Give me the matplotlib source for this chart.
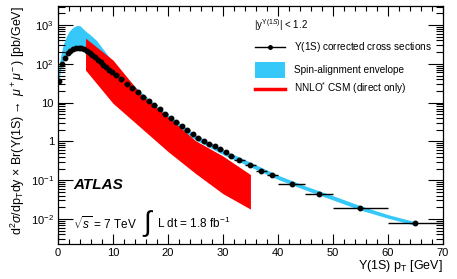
import numpy as np
import matplotlib
matplotlib.use('Agg')
import matplotlib.pyplot as plt
from matplotlib.ticker import FixedLocator, LogLocator, NullFormatter, MultipleLocator
from matplotlib.patches import Rectangle
from matplotlib.lines import Line2D

plt.rcParams['font.family'] = ['Liberation Sans', 'DejaVu Sans']
plt.rcParams['mathtext.fontset'] = 'custom'
plt.rcParams['mathtext.rm'] = 'Liberation Sans'
plt.rcParams['mathtext.it'] = 'Liberation Sans:italic'

# measured cross sections (bin low / high edges and values)
bin_lo = [0.0, 0.5, 1.0, 1.5, 2.0, 2.5, 3.0, 3.5, 4.0, 4.5, 5.0, 5.5, 6.0, 6.5, 7.0, 7.5, 8.0, 8.5, 9.0, 9.5,
          10, 11, 12, 13, 14, 15, 16, 17, 18, 19, 20, 21, 22, 23, 24, 25, 26, 27, 28, 29, 30, 31,
          32, 34, 36, 38, 40, 45, 50, 60]
bin_hi = [0.5, 1.0, 1.5, 2.0, 2.5, 3.0, 3.5, 4.0, 4.5, 5.0, 5.5, 6.0, 6.5, 7.0, 7.5, 8.0, 8.5, 9.0, 9.5, 10,
          11, 12, 13, 14, 15, 16, 17, 18, 19, 20, 21, 22, 23, 24, 25, 26, 27, 28, 29, 30, 31, 32,
          34, 36, 38, 40, 45, 50, 60, 70]
xsec = [37, 99, 145, 185, 215, 240, 255, 258, 250, 235, 215, 192, 170, 147, 127, 110, 96, 82, 71, 62,
        52, 40, 31, 24, 18.5, 14.2, 11.0, 8.6, 6.7, 5.2, 3.9, 3.1, 2.45, 1.95, 1.55, 1.25, 1.02, 0.86,
        0.74, 0.63, 0.52, 0.41,
        0.33, 0.25, 0.178, 0.136, 0.080, 0.044, 0.0192, 0.0078]

# spin-alignment envelope
env_pt = [0, 0.5, 1, 1.5, 2, 2.5, 3, 3.5, 4, 5, 6, 7, 8, 9, 10, 12, 14, 16, 18, 20, 25, 30, 35, 40,
          45, 50, 55, 60, 65]
env_hi = [55, 170, 330, 500, 680, 820, 920, 980, 960, 700, 540, 400, 260, 170, 115, 52, 26, 14.5, 8.2,
          4.9, 1.5, 0.62, 0.29, 0.135, 0.071, 0.04, 0.022, 0.013, 0.0085]
env_lo = [24, 80, 120, 150, 175, 200, 215, 225, 225, 205, 160, 115, 85, 65, 50, 28, 17, 10.3, 6.0,
          3.6, 1.1, 0.46, 0.22, 0.105, 0.056, 0.031, 0.017, 0.0105, 0.0068]

# NNLO* CSM band
csm_pt = [5, 10, 15, 20, 25, 30, 35]
csm_hi = [460, 125, 17, 4.3, 1.05, 0.42, 0.14]
csm_lo = [69, 9.6, 2.3, 0.55, 0.15, 0.045, 0.018]

blue = '#36c8f8'
red = '#ff0000'

fig = plt.figure(figsize=(4.57, 2.79), dpi=100)
ax = fig.add_axes([0.127, 0.1255, 0.842, 0.853])

ax.fill_between(env_pt, env_lo, env_hi, color=blue, lw=0, zorder=1)
ax.fill_between(csm_pt, csm_lo, csm_hi, color=red, lw=0, zorder=2)

lo = np.array(bin_lo)
hi = np.array(bin_hi)
xc = 0.5 * (lo + hi)
ax.errorbar(xc, xsec, xerr=0.5 * (hi - lo), fmt='o', color='black', ms=3.2, elinewidth=1.0,
            capsize=0, zorder=3)

ax.set_yscale('log')
ax.set_xlim(0, 70)
ax.set_ylim(2.27e-3, 3100)

ax.xaxis.set_major_locator(MultipleLocator(10))
ax.xaxis.set_minor_locator(MultipleLocator(2))
ax.yaxis.set_major_locator(FixedLocator([1e-2, 1e-1, 1, 10, 1e2, 1e3]))
ax.yaxis.set_minor_locator(LogLocator(base=10, subs=np.arange(2, 10)))
ax.yaxis.set_minor_formatter(NullFormatter())
ax.set_yticklabels([r'$10^{-2}$', r'$10^{-1}$', '1', '10', r'$10^{2}$', r'$10^{3}$'])

ax.tick_params(which='both', direction='in', top=True, right=True, labelsize=8, width=0.8,
               colors='black')
ax.tick_params(axis='x', which='major', length=7, pad=3)
ax.tick_params(axis='x', which='minor', length=3.5)
ax.tick_params(axis='y', which='major', length=11, pad=3)
ax.tick_params(axis='y', which='minor', length=5)
for s in ax.spines.values():
    s.set_linewidth(0.9)

ax.set_xlabel(r'$\Upsilon$(1S) p$_\mathrm{T}$ [GeV]', fontsize=9, loc='right', labelpad=0)
ax.set_ylabel(r'd$^2\sigma$/dp$_\mathrm{T}$dy $\times$ Br($\Upsilon$(1S)$\rightarrow$ $\mu^+\mu^-$) [pb/GeV]',
              fontsize=9, loc='top', labelpad=3)

# legend drawn by hand in axes coordinates
tr = ax.transAxes
ax.text(0.51, 0.92, r'|y$^{\Upsilon(1S)}$| < 1.2', transform=tr, fontsize=7, va='center')
ax.add_line(Line2D([0.513, 0.59], [0.828, 0.828], color='black', lw=1.0, transform=tr))
ax.plot([0.551], [0.828], 'o', color='black', ms=2.5, transform=tr)
ax.text(0.613, 0.828, r'$\Upsilon$(1S) corrected cross sections', transform=tr, fontsize=7.2,
        va='center')
ax.add_patch(Rectangle((0.513, 0.697), 0.077, 0.068, color=blue, lw=0, transform=tr))
ax.text(0.613, 0.731, 'Spin-alignment envelope', transform=tr, fontsize=7.2, va='center')
ax.add_line(Line2D([0.513, 0.59], [0.651, 0.651], color=red, lw=2.5, transform=tr))
ax.text(0.613, 0.653, r'NNLO$^{*}$ CSM (direct only)', transform=tr, fontsize=7.2, va='center')

ax.text(0.04, 0.248, 'ATLAS', transform=tr, fontsize=11, fontweight='bold', style='italic',
        va='center')
ax.text(0.04, 0.085, r'$\sqrt{s}$ = 7 TeV', transform=tr, fontsize=8.5, va='center')
ax.text(0.218, 0.085, r'$\int$', transform=tr, fontsize=20, va='center')
ax.text(0.258, 0.085, r'L dt = 1.8 fb$^{-1}$', transform=tr, fontsize=8.5, va='center')

fig.savefig('out.png', dpi=100)
